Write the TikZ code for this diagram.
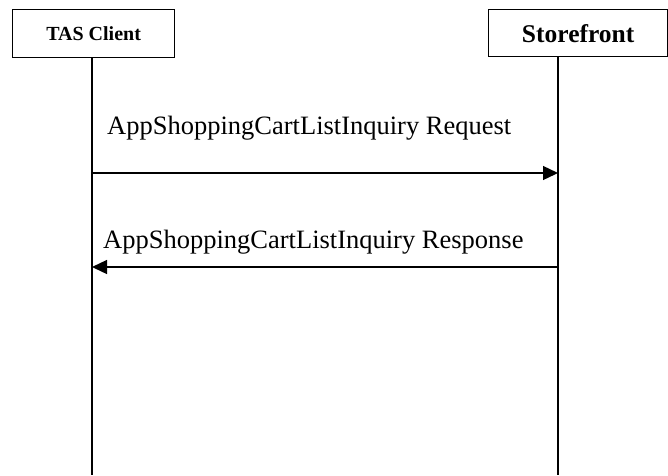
\documentclass[tikz,border=0pt]{standalone}
\usepackage{fontspec}
\setmainfont{Liberation Serif}
\usetikzlibrary{arrows.meta}
\begin{document}
\begin{tikzpicture}[x=1pt,y=-1pt,
  actor/.style={draw,line width=1.3pt,inner sep=0pt,anchor=north west},
  life/.style={line width=1.3pt},
  msg/.style={line width=1.3pt,-{Triangle[length=15pt,width=14pt]}},
  lbl/.style={font=\fontsize{26.5}{30}\selectfont,anchor=west,inner sep=0pt}]
\useasboundingbox (0,0) rectangle (668,475);
\node[actor,minimum width=162pt,minimum height=48pt] (tas) at (12,9) {};
\node[font=\bfseries\fontsize{20}{22}\selectfont] at (tas.center) {TAS Client};
\node[actor,minimum width=179pt,minimum height=47pt] (sf) at (488,9) {};
\node[font=\bfseries\fontsize{25.5}{28}\selectfont] at (sf.center) {Storefront};
\coordinate (tasend) at (92,475);
\coordinate (sfend) at (558,475);
\coordinate (tastop) at (92,57);
\coordinate (sftop) at (558,56);
\draw[life] (tastop) -- (tasend);
\draw[life] (sftop) -- (sfend);
\coordinate (a1) at (92,173);
\coordinate (b1) at (558,173);
\coordinate (a2) at (558,267);
\coordinate (b2) at (92,267);
\draw[msg] (a1) -- (b1);
\draw[msg] (a2) -- (b2);
\node[lbl] (l1) at (107,128) {AppShoppingCartListInquiry Request};
\node[lbl] (l2) at (103,242) {AppShoppingCartListInquiry Response};
\end{tikzpicture}
\end{document}
